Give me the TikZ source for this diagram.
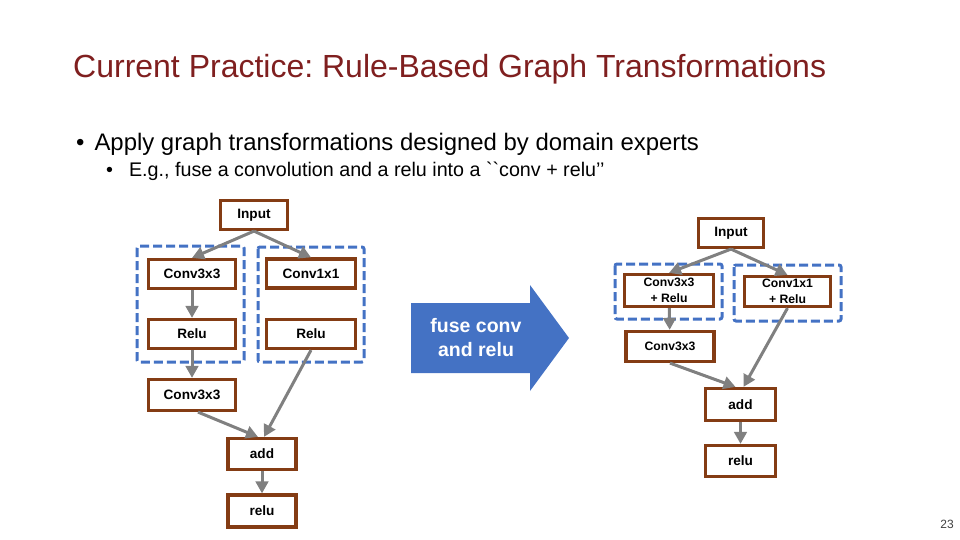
\documentclass[tikz,border=0pt]{standalone}
\usepackage{fontspec}
\newfontfamily\arial{Liberation Sans}
\usetikzlibrary{arrows.meta}
\definecolor{boxbrown}{RGB}{132,60,20}
\definecolor{arrgray}{RGB}{128,128,128}
\definecolor{dblue}{RGB}{68,114,196}
\definecolor{titlered}{RGB}{127,31,31}
\tikzset{
  opbox/.style={draw=boxbrown, line width=3.2pt, fill=white, inner sep=0pt,
    font=\arial\bfseries\fontsize{13.6}{15}\selectfont, align=center},
  smallop/.style={opbox, font=\arial\bfseries\fontsize{12.2}{15.5}\selectfont},
  flow/.style={draw=arrgray, line width=3pt, -{Triangle[length=12pt,width=12.5pt]}},
  groupbox/.style={draw=dblue, line width=3pt, dash pattern=on 9pt off 4pt, rounded corners=2pt},
}
\frenchspacing
\begin{document}
\begin{tikzpicture}[x=1pt,y=-1pt]
\useasboundingbox (0,0) rectangle (960,540);
% title and bullets
\node[anchor=base west, inner sep=0pt, text=titlered, font=\arial\fontsize{32}{36}\selectfont] (title) at (73,78) {Current Practice: Rule-Based Graph Transformations};
\node[anchor=base west, inner sep=0pt, font=\arial\fontsize{23.9}{28}\selectfont] (b1) at (76,151) {•\hspace{10pt}Apply graph transformations designed by domain experts};
\node[anchor=base west, inner sep=0pt, font=\arial\fontsize{19.7}{24}\selectfont] (b2) at (106,177) {•\hspace{16pt}E.g., fuse a convolution and a relu into a ``conv + relu’’};
\node[anchor=base east, inner sep=0pt, text=black!75, font=\arial\fontsize{12}{14}\selectfont] (pg) at (954,528) {23};

% left group boxes
\draw[groupbox] (137,246) rectangle (244,362);
\draw[groupbox] (258,247) rectangle (364,362);

% left graph
\node[opbox, minimum width=67pt, minimum height=29pt] (in1) at (254,215) {Input};
\node[opbox, minimum width=87pt, minimum height=29pt] (c1) at (192,274) {Conv3x3};
\node[opbox, minimum width=89pt, minimum height=29pt] (c2) at (311,273.5) {Conv1x1};
\node[opbox, minimum width=87pt, minimum height=29pt] (r1) at (192,334) {Relu};
\node[opbox, minimum width=89pt, minimum height=29pt] (r2) at (311,334) {Relu};
\node[opbox, minimum width=87pt, minimum height=31pt] (c3) at (192,395) {Conv3x3};
\node[opbox, minimum width=68pt, minimum height=31pt] (add1) at (262,454) {add};
\node[opbox, minimum width=68pt, minimum height=32pt] (relu1) at (262,511) {relu};

\draw[flow] (in1.south) -- (c1.north);
\draw[flow] (in1.south) -- (c2.north);
\draw[flow] (c1) -- (r1);
\draw[flow] (r1) -- (c3);
\draw[flow] ([xshift=6pt]c3.south) -- ([xshift=-4pt]add1.north);
\draw[flow] (r2.south) -- ([xshift=2pt]add1.north);
\draw[flow] (add1) -- (relu1);

% big arrow
\fill[dblue] (411,303) -- (530,303) -- (530,285) -- (569,338) -- (530,391) -- (530,373) -- (411,373) -- cycle;
\node[text=white, align=center, font=\arial\bfseries\fontsize{19.5}{24}\selectfont] (fuse) at (476,338) {fuse conv\\and relu};

% right group boxes
\draw[groupbox] (615,264) rectangle (722,319);
\draw[groupbox] (734,265) rectangle (841,321);

% right graph
\node[opbox, minimum width=65pt, minimum height=29pt] (in2) at (731,233) {Input};
\node[smallop, minimum width=89pt, minimum height=32pt] (cr1) at (669,290.5) {Conv3x3\\+ Relu};
\node[smallop, minimum width=86pt, minimum height=30pt] (cr2) at (787.5,291.5) {Conv1x1\\+ Relu};
\node[smallop, minimum width=88pt, minimum height=30pt] (c4) at (670,346.5) {Conv3x3};
\node[opbox, minimum width=70pt, minimum height=32pt] (add2) at (740.5,404.5) {add};
\node[opbox, minimum width=70pt, minimum height=31pt] (relu2) at (740.5,461) {relu};

\draw[flow] (in2.south) -- (cr1.north);
\draw[flow] (in2.south) -- (cr2.north);
\draw[flow] (cr1) -- (c4);
\draw[flow] (c4.south) -- ([xshift=-5pt]add2.north);
\draw[flow] (cr2.south) -- ([xshift=3pt]add2.north);
\draw[flow] (add2) -- (relu2);
\end{tikzpicture}
\end{document}
